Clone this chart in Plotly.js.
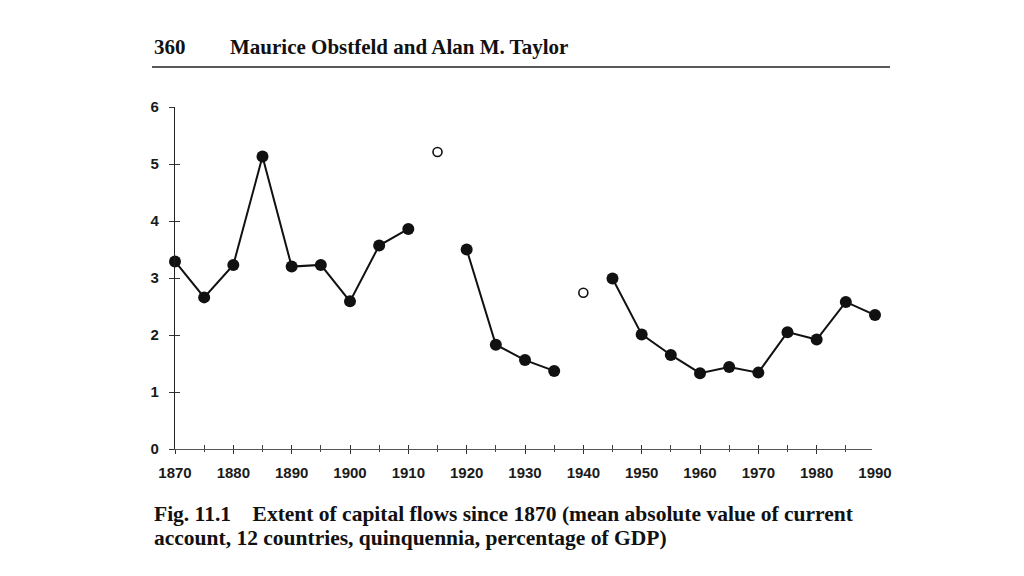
<!DOCTYPE html>
<html>
<head>
<meta charset="utf-8">
<script src="https://cdn.plot.ly/plotly-3.0.1.min.js"></script>
<style>html,body{margin:0;padding:0;background:#fff;}#chart{width:1024px;height:576px;}</style>
</head>
<body>
<div id="chart"></div>
<script>
// Data: mean absolute current account, % of GDP, quinquennia
const years = [1870,1875,1880,1885,1890,1895,1900,1905,1910,1915,1920,1925,1930,1935,1940,1945,1950,1955,1960,1965,1970,1975,1980,1985,1990];
const values = [3.29,2.66,3.23,5.13,3.20,3.23,2.59,3.57,3.86,null,3.50,1.83,1.56,1.37,null,2.99,2.01,1.65,1.33,1.44,1.34,2.05,1.92,2.58,2.35];
const openYears = [1915,1940];
const openValues = [5.21,2.74];
const xLabelYears = [1870,1880,1890,1900,1910,1920,1930,1940,1950,1960,1970,1980,1990];
const xLabels = ['1870','1880','1890','1900','1910','1920','1930','1940','1950','1960','1970','1980','1990'];
const xMajorTickYears = [1870,1880,1890,1900,1910,1920,1930,1940,1950,1960,1970,1980];
const xMinorTickYears = [1875,1885,1895,1905,1915,1925,1935,1945,1955,1965,1975,1985];
const yTicks = [0,1,2,3,4,5,6];
const yLabels = ['0','1','2','3','4','5','6'];
const headerPage = '360';
const headerAuthors = 'Maurice Obstfeld and Alan M. Taylor';
const captionLine1 = 'Fig. 11.1\u00a0\u00a0\u00a0\u00a0Extent of capital flows since 1870 (mean absolute value of current';
const captionLine2 = 'account, 12 countries, quinquennia, percentage of GDP)';

const L = 175, R = 149, T = 107, B = 127;
const W = 1024, H = 576;
const pw = W - L - R, ph = H - T - B;
const px = x => (x - L) / pw;
const py = y => (H - B - y) / ph;
const lineEndFrac = 697 / 700;
const xMin = xLabelYears[0], xMax = xLabelYears[xLabelYears.length - 1];
const shortRange = [xMin, xMin + (xMax - xMin) * lineEndFrac];

const tickFont = {family: 'Liberation Sans, Arial, sans-serif', size: 15, color: '#1a1a1a', weight: 'bold'};
const serif = 'Liberation Serif, Times New Roman, serif';
const hidden = {opacity: 0, size: 1};

const traces = [
  // invisible helpers so the axis-line / tick axes get drawn
  {x: years, y: values, type: 'scatter', mode: 'markers', marker: hidden, xaxis: 'x2', yaxis: 'y', hoverinfo: 'skip'},
  {x: years, y: values, type: 'scatter', mode: 'markers', marker: hidden, xaxis: 'x3', yaxis: 'y', hoverinfo: 'skip'},
  {x: years, y: values, type: 'scatter', mode: 'markers', marker: hidden, xaxis: 'x', yaxis: 'y2', hoverinfo: 'skip'},
  {x: years, y: values, type: 'scatter', mode: 'lines+markers', connectgaps: false,
   line: {color: '#111', width: 2}, marker: {color: '#111', size: 12},
   cliponaxis: false, xaxis: 'x', yaxis: 'y'},
  {x: openYears, y: openValues, type: 'scatter', mode: 'markers',
   marker: {color: '#fff', size: 9, line: {color: '#111', width: 1.6}},
   cliponaxis: false, xaxis: 'x', yaxis: 'y'}
];

const layout = {
  width: W, height: H,
  margin: {l: L, r: R, t: T, b: B, pad: 0},
  paper_bgcolor: '#fff', plot_bgcolor: 'rgba(0,0,0,0)',
  showlegend: false,
  font: {family: 'Liberation Sans, Arial, sans-serif', color: '#111'},
  xaxis: {range: [xMin, xMax], domain: [0, 1], anchor: 'y', showgrid: false, zeroline: false,
    showline: false, ticks: '', tickmode: 'array', tickvals: xLabelYears, ticktext: xLabels,
    tickfont: tickFont, ticklabelstandoff: 13, fixedrange: true},
  xaxis2: {anchor: 'y', range: shortRange, domain: [0, lineEndFrac],
    showgrid: false, zeroline: false, showline: true, linecolor: '#555', linewidth: 1,
    ticks: 'inside', ticklen: 4, tickwidth: 1, tickcolor: '#333', tickmode: 'array', tickvals: xMajorTickYears,
    showticklabels: false,
    minor: {tickmode: 'array', tickvals: xMinorTickYears, ticks: 'inside', ticklen: 4, tickwidth: 1, tickcolor: '#444', showgrid: false}},
  xaxis3: {anchor: 'y', range: shortRange, domain: [0, lineEndFrac],
    showgrid: false, zeroline: false, showline: false,
    ticks: 'outside', ticklen: 4, tickwidth: 1, tickcolor: '#333', tickmode: 'array', tickvals: xMajorTickYears,
    showticklabels: false,
    minor: {tickmode: 'array', tickvals: xMinorTickYears, ticks: 'outside', ticklen: 2, tickwidth: 1, tickcolor: '#444', showgrid: false}},
  yaxis: {range: [0, 6], domain: [0, 1], anchor: 'x', showgrid: false, zeroline: false, showline: true, linecolor: '#222', linewidth: 1.2,
    ticks: 'outside', ticklen: 5, tickwidth: 1, tickcolor: '#333', tickmode: 'array', tickvals: yTicks, ticktext: yLabels,
    tickfont: tickFont, ticklabelstandoff: 7, fixedrange: true},
  yaxis2: {overlaying: 'y', anchor: 'x', range: [0, 6], showgrid: false, zeroline: false, showline: false,
    ticks: 'inside', ticklen: 5, tickwidth: 1, tickcolor: '#333', tickmode: 'array', tickvals: yTicks,
    showticklabels: false},
  shapes: [
    {type: 'line', xref: 'paper', yref: 'paper', x0: px(152), x1: px(890), y0: py(67), y1: py(67),
     line: {color: '#222', width: 1.5}}
  ],
  annotations: [
    {xref: 'paper', yref: 'paper', x: px(152), y: py(47), xanchor: 'left', yanchor: 'middle', showarrow: false,
     text: headerPage, font: {family: serif, size: 21, color: '#111', weight: 'bold'}},
    {xref: 'paper', yref: 'paper', x: px(228), y: py(47), xanchor: 'left', yanchor: 'middle', showarrow: false,
     text: headerAuthors, font: {family: serif, size: 21, color: '#111', weight: 'bold'}},
    {xref: 'paper', yref: 'paper', x: px(152), y: py(514), xanchor: 'left', yanchor: 'middle', showarrow: false,
     text: captionLine1, font: {family: serif, size: 21.5, color: '#111', weight: 'bold'}},
    {xref: 'paper', yref: 'paper', x: px(152), y: py(538), xanchor: 'left', yanchor: 'middle', showarrow: false,
     text: captionLine2, font: {family: serif, size: 21.5, color: '#111', weight: 'bold'}}
  ]
};

Plotly.newPlot('chart', traces, layout, {staticPlot: true, displayModeBar: false});
</script>
</body>
</html>
